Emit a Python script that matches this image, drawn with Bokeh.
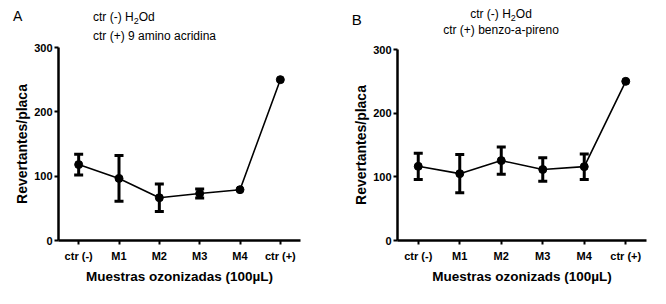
from bokeh.plotting import figure
from bokeh.layouts import row, column
from bokeh.models import Range1d, FactorRange, FixedTicker, Whisker, ColumnDataSource, TeeHead, Div
from bokeh.embed import file_html
from bokeh.resources import INLINE

categories = ["ctr (-)", "M1", "M2", "M3", "M4", "ctr (+)"]
values_a = [118, 96.5, 66.5, 73, 79, 250]
errors_a = [16, 35.5, 21.5, 7, 0, 0]
values_b = [116.5, 105, 125.5, 111.5, 116, 250]
errors_b = [20.5, 30, 21.5, 18.5, 20, 0]
y_ticks = [0, 100, 200, 300]

FONT = "Liberation Sans"
HEAD_H = 43
MAIN_H = 261

H2O = 'ctr (-) H<span style="font-size:9px;position:relative;top:3px;">2</span>Od'


def span(txt, left, top, size, width=None, align="left"):
    w = f"width:{width}px;" if width else "white-space:nowrap;"
    return (f'<span style="position:absolute;left:{left}px;top:{top}px;font-size:{size}px;'
            f'line-height:1;{w}text-align:{align};white-space:nowrap;">{txt}</span>')


def make_header(width, parts):
    html = (f'<div style="position:relative;width:{width}px;height:{HEAD_H}px;'
            f"font-family:'{FONT}';color:black;overflow:visible;\">" + "".join(parts) + "</div>")
    return Div(text=html, width=width, height=HEAD_H, margin=(0, 0, 0, 0))


def make_panel(values, errors, xlabel, width, borders):
    left, right, top, bottom = borders
    p = figure(x_range=FactorRange(factors=categories, range_padding=0),
               y_range=Range1d(0, 300), width=width, height=MAIN_H,
               output_backend="svg", toolbar_location=None, title=None,
               min_border_left=left, min_border_right=right,
               min_border_top=top, min_border_bottom=bottom)
    p.outline_line_color = None
    p.xgrid.visible = False
    p.ygrid.visible = False

    for ax in (p.xaxis[0], p.yaxis[0]):
        ax.axis_line_width = 2.5
        ax.axis_line_color = "black"
        ax.major_tick_line_width = 2
        ax.major_tick_line_color = "black"
        ax.major_tick_out = 4
        ax.major_tick_in = 0
        ax.minor_tick_line_color = None
        ax.major_label_text_font = FONT
        ax.major_label_text_font_style = "bold"
        ax.major_label_text_font_size = "11px"
        ax.major_label_text_color = "black"
        ax.axis_label_text_font = FONT
        ax.axis_label_text_font_style = "bold"
        ax.axis_label_text_color = "black"

    p.yaxis[0].ticker = FixedTicker(ticks=y_ticks)
    p.yaxis[0].major_label_standoff = 2
    p.yaxis[0].axis_label = "Revertantes/placa"
    p.yaxis[0].axis_label_text_font_size = "14px"
    p.yaxis[0].axis_label_standoff = 1
    p.xaxis[0].major_label_standoff = 5
    p.xaxis[0].axis_label = xlabel
    p.xaxis[0].axis_label_text_font_size = "13.5px"
    p.xaxis[0].axis_label_standoff = 4

    idx = [i for i, e in enumerate(errors) if e > 0]
    src = ColumnDataSource(data=dict(
        x=[categories[i] for i in idx],
        upper=[values[i] + errors[i] for i in idx],
        lower=[values[i] - errors[i] for i in idx],
    ))
    w = Whisker(base="x", upper="upper", lower="lower", source=src, dimension="height",
                line_width=3, line_color="black",
                upper_head=TeeHead(size=9, line_width=3, line_color="black"),
                lower_head=TeeHead(size=9, line_width=3, line_color="black"))
    p.add_layout(w)

    p.line(x=categories, y=values, line_width=1.6, line_color="black")
    p.scatter(x=categories, y=values, size=8, fill_color="black", line_color="black")
    return p


ha = make_header(333, [
    span("A", 13, 8.9, 14),
    span(H2O, 93, 10.5, 12),
    span("ctr (+) 9 amino acridina", 93, 29.8, 12),
])
pa = make_panel(values_a, errors_a, "Muestras ozonizadas (100\u00b5L)", 333, (58, 33, 4, 64))

hb = make_header(330, [
    span("B", 18.7, 12.3, 15),
    span(H2O, 68, 8.1, 12, width=200, align="center"),
    span("ctr (+) benzo-a-pireno", 68, 23.8, 12, width=200, align="center"),
])
pb = make_panel(values_b, errors_b, "Muestras ozonizads (100\u00b5L)", 330, (64, 17, 6, 64))

layout = row(column(ha, pa), column(hb, pb))
open("out.html", "w").write(file_html(layout, INLINE))
